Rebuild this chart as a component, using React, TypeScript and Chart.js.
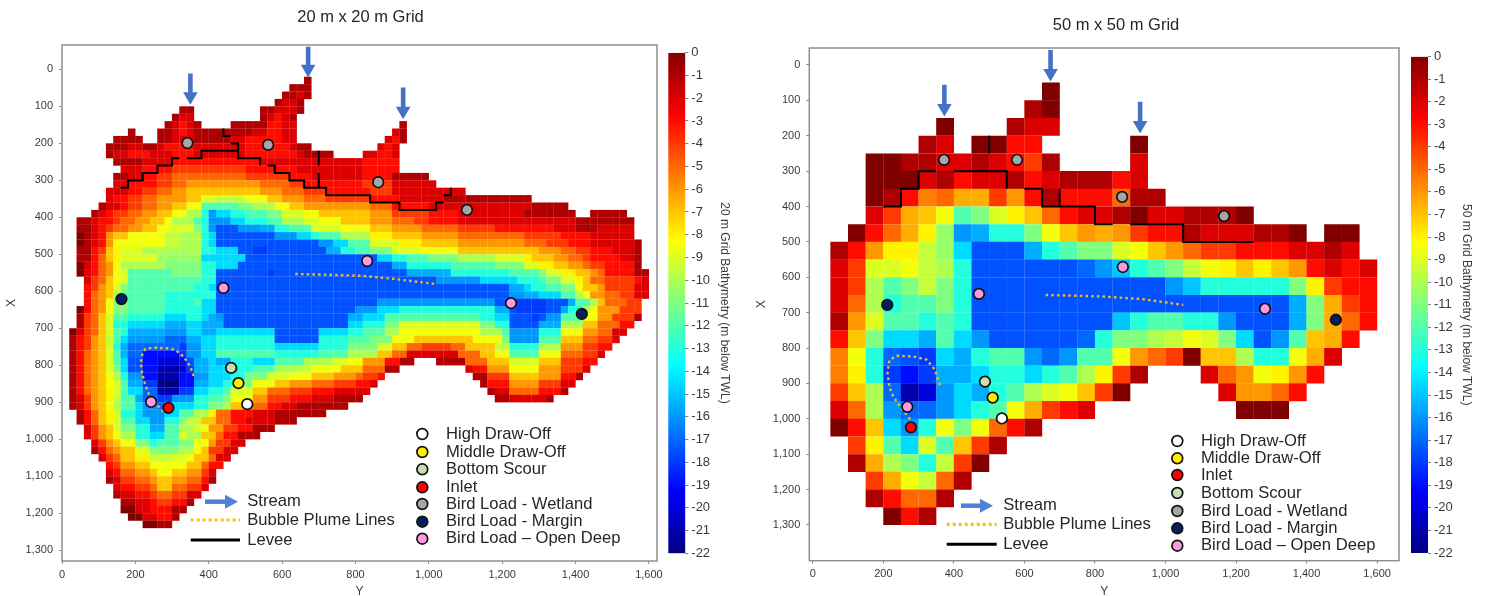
import React, { useEffect, useRef } from "react";
import { Chart, registerables } from "chart.js";

Chart.register(...registerables);

const FONT = "'Liberation Sans', Arial, sans-serif";
const TEXT = "#3a3a3a";

// Depth codes: a=0 m, b=-1 m ... w=-22 m; a capital letter is half a metre deeper.
// 20 m grid. One row per 20 m of X starting at X=20. "start token token": letter+last column, ".n" = gap up to column n.
const grid20Rows: string[] = [
  "33 b33",
  "31 b33",
  "30 b31 c32 b33",
  "29 b29 c31 b32",
  "16 b17 .26 b28 c31 b32",
  "15 b15 c17 .26 b27 c28 d29 c30 b31",
  "14 b14 c15 d16 c17 b18 .22 b27 d29 c31 .45 b46",
  "9 b9 .12 b14 c15 d16 c17 b25 c27 d29 c31 .44 c45 b46",
  "7 b10 .12 b14 c17 b22 c24 d29 c31 .43 c44 d45 b46",
  "6 b8 c10 b12 c13 d17 c24 d30 c31 b33 .42 c43 d44 c45",
  "6 b6 c8 d11 c14 d17 c24 d31 c32 b36 .40 c42 d44 c45",
  "7 b10 c14 d26 c40 d45",
  "8 c10 d14 e24 d31 c40 d45",
  "7 b8 c10 d12 e14 f24 e30 d33 c40 d44 b49",
  "7 c8 d12 e14 f16 g26 f30 e32 d40 e44 c50",
  "6 c8 d10 e12 f14 g16 h26 g29 f32 e35 d41 e44 c54",
  "6 c6 d8 e10 f12 g16 h18 j20 J24 I27 h29 g32 f35 e41 d45 c51 b63",
  "5 b5 c7 d8 e10 f12 g14 h16 I18 m23 l25 k28 I30 h32 g41 f44 d49 c63 b68",
  "4 b4 c5 d6 e8 f10 g12 h14 I16 k18 n19 q20 O22 n24 m27 l29 j32 I34 h41 g44 e49 d53 c62 b69 .71 b76",
  "2 b3 c4 d6 e7 f9 g11 h13 I14 k17 m18 n19 q22 O24 n27 m29 k32 j34 I37 h41 g44 f47 e49 d53 c69 b77",
  "2 b3 c4 d5 e6 f8 g10 h12 I14 j17 l18 n19 q20 R23 q26 P28 n30 m33 j37 I41 h44 g48 f53 e58 d66 c69 b72 c77",
  "2 a2 b3 c4 d5 g6 h8 I13 J15 k18 n19 O20 R28 q31 O33 n34 m37 k41 i44 h48 g53 f62 e67 d71 c77",
  "2 a2 b3 c4 d5 g6 I13 J15 k18 n19 O20 R34 q36 O38 m41 j45 i48 h53 g62 f65 e68 d71 c77 b78",
  "2 b3 d4 e5 h6 i7 j10 k18 n20 O23 R25 s27 R35 P37 n39 m41 l44 j48 I53 h64 g67 f69 e71 d74 c77 b78",
  "2 b3 d4 f5 h6 i7 j12 K18 O24 R42 O44 n46 m49 l53 k58 j62 i63 h66 g68 f70 e71 d75 c77 b78",
  "2 a2 c3 d4 f5 g6 I7 k13 l18 n20 O23 R44 P46 n52 m58 l62 j64 i66 h68 g70 f71 e73 d77 b78",
  "2 a2 c3 d4 f5 g6 I7 j8 m14 l18 n20 R27 s28 R46 P52 n60 m64 l65 j67 i69 h71 g72 f73 d77 b79",
  "3 c3 e4 f5 h6 I7 j8 m18 n20 R50 q56 O61 n64 m65 l67 j69 i70 h71 f73 e77 d78 c79",
  "3 d3 e4 g5 h6 j7 l8 m17 n19 O20 R60 P62 O63 n65 m67 l69 I70 h72 g73 e77 c79",
  "3 d3 f4 g5 h6 k7 m13 n20 R60 q62 P64 O67 m69 k70 I71 g73 f75 e77 c79",
  "3 d3 f4 g5 I6 l8 m13 n17 m18 O20 R42 q58 R61 s65 R68 P69 m71 k72 h73 f76 e78",
  "2 a2 d3 f4 g5 I6 l8 m13 n18 O20 R39 q42 O45 n58 P60 R61 s65 R67 P68 n70 k71 I72 g75 e78",
  "2 b2 e3 f4 h5 j6 m8 n13 O16 n18 O19 P20 q21 R38 P40 O43 m56 n58 O60 R63 s64 R65 q67 m70 I72 g74 e77 b78",
  "2 b2 e3 f4 h5 j6 n8 O13 P16 O18 P21 R38 O40 n43 l45 j56 l58 n60 R64 P67 k70 h72 f75 d77",
  "1 a1 c2 e3 f4 h5 j6 m7 n8 P13 q16 O18 P20 O28 R34 O38 n40 m43 k45 I56 k59 m60 q64 n67 I70 g72 f74 c76",
  "1 b1 d2 e3 g4 h5 J6 m7 O8 q13 r16 P18 O20 n28 R34 n38 m41 l44 I47 h55 I59 l60 q64 m67 h70 f72 e74 c75",
  "1 b1 d2 e3 g4 h5 j6 n7 P8 r15 s16 q18 O20 n28 O34 n38 l42 j44 h46 f48 e52 f54 h58 J60 n64 k67 g70 e72 d74",
  "1 b1 d2 f3 g4 h5 j6 m7 P8 r10 t15 s16 q18 O20 m28 n34 m38 k42 h44 f46 c53 f56 h58 I60 m64 I67 f70 e72 c73",
  "1 b1 d2 f3 g4 h5 j6 m7 O8 R10 t12 u15 t16 R17 P19 O20 P22 n25 O28 m32 k36 j38 I40 g43 d45 b47 .50 b54 f57 h60 j64 h67 e70 d72",
  "1 b1 d2 f3 g4 h5 j6 l7 O8 R10 t12 v15 u16 s17 P19 O23 n25 m28 k31 J33 I37 h40 f43 b45 .54 c55 d57 g60 I64 g67 e70 c71",
  "1 b1 d2 f3 g4 h5 I6 k7 n8 q10 t12 v15 t17 q19 O22 n24 l27 j30 I33 h36 g39 f40 e42 d43 .55 b57 e60 h64 g67 d69 b70",
  "1 b1 d2 f3 g4 h5 I6 j7 m8 P10 s12 w15 t17 P19 O21 n23 l25 I28 h30 g33 f36 e39 d41 c42 .56 b57 d60 g64 e67 c69",
  "1 b1 d2 f3 g4 h5 i6 j7 m8 O10 r12 v15 s17 O19 n21 m22 j25 h27 f30 e33 d36 c41 .57 b58 c60 f64 d67 b68",
  "1 b1 c2 e3 g4 h5 i6 J7 m9 P10 r12 s14 q17 n19 m21 l22 I25 g27 e30 d33 c36 b40 .58 b60 c65 b66",
  "1 b1 c2 e3 g4 h5 I6 k7 m9 O10 q12 r13 O17 n19 l21 k22 h24 f27 d29 c31 b38",
  "2 b2 d3 f4 h5 i6 j7 n9 O10 q13 O15 m17 k19 i20 f22 d25 c28 b35",
  "2 b2 d3 f4 h5 i6 j7 m9 O11 q13 n15 l16 J18 h20 f22 d24 c28 b31",
  "3 c3 e4 g5 h6 j7 l9 n11 P13 m15 k17 j18 I19 g21 e23 d25 b28",
  "3 c3 e4 g5 h6 I7 k9 n11 O13 m15 j16 k18 h20 f21 d23 b26",
  "4 c4 e5 g6 h7 I9 l11 n12 m15 l17 I19 g20 e22 c24",
  "4 b4 d5 f6 g7 h9 j11 l15 k17 I18 h19 e21 c23",
  "5 c5 e6 f7 h9 i11 J14 j16 I17 h19 f20 c22",
  "6 d6 e7 g9 h11 I16 h18 f19 d21",
  "6 c6 d7 f9 g11 h12 I14 h16 g18 e19 c20",
  "6 b6 c7 e9 f11 g12 h14 g16 f18 d19 b20",
  "7 c7 d9 e11 f12 h14 f16 e18 c19",
  "7 b7 c9 d11 e12 f14 e16 c18",
  "8 b9 c11 d12 e14 d16 b17",
  "8 a9 c11 d14 b16",
  "9 a10 c12 d14 b15",
  "11 a12 b14",
];

// 50 m grid. One row per 50 m of X starting at X=50; one letter per 50 m of Y starting at Y=0.
const grid50Rows: string[] = [
  ".............a",
  "............ba",
  ".......a...bcc",
  "......bc.aadd.....a",
  "...aabbccbcdeb....c",
  "...aaacbdccbdcbbbdc",
  "...abdFfGGegdbdddfbb",
  "...ceGhImljihfdccbaccbbba",
  "..adfGiKqPnnlIhgGgeddbcccbba.aa",
  ".bdgiiJKORRRPnmlljIhgfeedddccbc",
  ".cejjIJknRRRRRRrqpnmlJIihihgdcdc",
  ".cekmlJlnRRRRRRRRRRRqpnnnnnliedd",
  ".cfknmmlnRRRRRRRRRRRRRRRRRRPlGed",
  ".bgjmmnmnRRRRRRRRpnmmnnqRRRPlGfd",
  ".dhlOOPmOqRRRRRrnllkJIjlORqmhGd",
  ".FInrRsOPnmmqrqmmIgfeahhknnIGc",
  ".FinstsPPOnnOnmkieb...cfgIigd",
  ".ehkrvuqOPnmkjIhea.....cggfd",
  ".cfkqrrqOnmIGedc........aaa",
  ".adhOqnIlIfdb",
  "..eimOjmheb",
  "..bGklnJea",
  "...eGIJfb",
  "...bdffb",
  "....adb",
];

type XY = [number, number]; // [Y along the horizontal axis, X along the vertical axis]

const seriesNames = {
  high: "High Draw-Off",
  middle: "Middle Draw-Off",
  scour: "Bottom Scour",
  inlet: "Inlet",
  wetland: "Bird Load - Wetland",
  margin: "Bird Load - Margin",
  deep: "Bird Load \u2013 Open Deep",
};

const high20: XY[] = [[505, 905]];
const middle20: XY[] = [[481, 848]];
const scour20: XY[] = [[461, 807]];
const inlet20: XY[] = [[290, 915]];
const wetland20: XY[] = [[342, 199], [562, 204], [862, 305], [1104, 380]];
const margin20: XY[] = [[162, 621], [1417, 661]];
const deep20: XY[] = [[440, 591], [832, 518], [1224, 632], [243, 899]];

const high50: XY[] = [[536, 999]];
const middle50: XY[] = [[510, 940]];
const scour50: XY[] = [[488, 895]];
const inlet50: XY[] = [[278, 1024]];
const wetland50: XY[] = [[372, 268], [579, 268], [877, 373], [1166, 427]];
const margin50: XY[] = [[211, 678], [1483, 720]];
const deep50: XY[] = [[471, 647], [879, 571], [1282, 689], [268, 966]];

const levee20: XY[][] = [
  [[160, 320], [180, 320], [180, 300], [220, 300], [220, 280], [260, 280], [260, 260], [300, 260], [300, 240], [320, 240]],
  [[340, 240], [380, 240], [380, 220], [480, 220], [480, 240], [540, 240], [540, 260]],
  [[560, 260], [580, 260], [580, 280], [620, 280], [620, 300], [660, 300], [660, 320], [720, 320], [720, 340], [840, 340], [840, 360], [920, 360], [920, 380], [1020, 380], [1020, 360], [1040, 360]],
  [[1040, 340], [1060, 340], [1060, 320]],
  [[440, 160], [440, 180], [460, 180]],
  [[460, 200], [480, 200], [480, 220]],
  [[700, 220], [700, 260]],
  [[700, 280], [700, 320]],
];
const levee50: XY[][] = [
  [[200, 400], [250, 400], [250, 350], [300, 350], [300, 300], [350, 300]],
  [[400, 300], [550, 300], [550, 350]],
  [[600, 350], [650, 350], [650, 400], [800, 400], [800, 450], [850, 450]],
  [[900, 450], [1050, 450], [1050, 500], [1250, 500]],
  [[500, 200], [500, 250]],
  [[700, 350], [700, 400]],
];

const plume20: XY[][] = [
  [[277, 925], [264, 912], [243, 894], [234, 871], [223, 840], [216, 808], [216, 777], [227, 756], [250, 752], [286, 754], [309, 758], [332, 777], [350, 804], [361, 835]],
  [[636, 553], [720, 555], [817, 558], [903, 566], [960, 573], [1017, 580]],
];
const plume50: XY[][] = [
  [[276, 1001], [247, 965], [228, 937], [217, 909], [212, 871], [217, 834], [238, 822], [285, 824], [323, 833], [346, 861], [361, 907]],
  [[660, 650], [815, 654], [937, 662], [1050, 678]],
];

// [Y, X of tail, X of head centre]
const arrows20: [number, number, number][] = [[350, 11, 73], [671, -61, -1], [930, 49, 112]];
const arrows50: [number, number, number][] = [[373, 56, 122], [674, -42, 23], [928, 104, 170]];

const xTicks: number[] = [0, 200, 400, 600, 800, 1000, 1200, 1400, 1600];
const yTicks: number[] = [0, 100, 200, 300, 400, 500, 600, 700, 800, 900, 1000, 1100, 1200, 1300];
const depthTicks: number[] = [0, -1, -2, -3, -4, -5, -6, -7, -8, -9, -10, -11, -12, -13, -14, -15, -16, -17, -18, -19, -20, -21, -22];
const jetStops: [number, string][] = [
  [0, "#800000"], [0.125, "#ff0000"], [0.375, "#ffff00"], [0.625, "#00ffff"], [0.875, "#0000ff"], [1, "#000080"],
];

function codeDepth(ch: string): number {
  const lower = ch.toLowerCase();
  return lower.charCodeAt(0) - 97 + (ch === lower ? 0 : 0.5);
}

function depthColour(depth: number): string {
  const t = 1 - depth / 22;
  const c = (v: number) => Math.round(255 * Math.max(0, Math.min(1, v)));
  return `rgb(${c(1.5 - Math.abs(4 * t - 3))},${c(1.5 - Math.abs(4 * t - 2))},${c(1.5 - Math.abs(4 * t - 1))})`;
}

type Cell = { x: number; y: number; d: number };

function decode20(): Cell[] {
  const cells: Cell[] = [];
  grid20Rows.forEach((row, r) => {
    const tokens = row.split(" ");
    let col = Number(tokens[0]);
    tokens.slice(1).forEach((tok) => {
      const end = Number(tok.slice(1));
      if (tok[0] !== ".") {
        for (let c = col; c <= end; c++) cells.push({ x: 20 * c + 10, y: 20 * (r + 1) + 10, d: codeDepth(tok[0]) });
      }
      col = end + 1;
    });
  });
  return cells;
}

function decode50(): Cell[] {
  const cells: Cell[] = [];
  grid50Rows.forEach((row, r) => {
    row.split("").forEach((ch, k) => {
      if (ch !== ".") cells.push({ x: 50 * k + 25, y: 50 * (r + 1) + 25, d: codeDepth(ch) });
    });
  });
  return cells;
}

const toPts = (a: XY[]) => a.map(([x, y]) => ({ x, y }));

type Panel = {
  title: string;
  titleX: number;
  titleY: number;
  plotTop: number;
  cells: Cell[];
  cellRadius: number;
  xMin: number; xMax: number; yMin: number; yMax: number;
  axisWidth: number; axisHeight: number; rightPad: number;
  levee: XY[][]; plume: XY[][]; arrows: [number, number, number][];
  markers: { name: string; pts: XY[]; fill: string }[];
  legendOrder: string[];
  legendMarkerX: number; legendTextX: number; legendYs: number[];
  lineLegend: { textX: number; arrowX: [number, number]; lineX: [number, number]; ys: [number, number, number] };
  canvasLeft: number;
};

const FILL: Record<string, string> = {
  high: "#ffffff", middle: "#ffee00", scour: "#c5dfb0", inlet: "#ff0000", wetland: "#a6a6a6", margin: "#002060", deep: "#ff99e0",
};
const markerSet = (h: XY[], m: XY[], s: XY[], i: XY[], w: XY[], g: XY[], d: XY[]) => [
  { name: "high", pts: h, fill: FILL.high }, { name: "middle", pts: m, fill: FILL.middle }, { name: "scour", pts: s, fill: FILL.scour },
  { name: "inlet", pts: i, fill: FILL.inlet }, { name: "wetland", pts: w, fill: FILL.wetland }, { name: "margin", pts: g, fill: FILL.margin },
  { name: "deep", pts: d, fill: FILL.deep },
];

const panel20: Panel = {
  title: "20 m x 20 m Grid", titleX: 360.5, titleY: 17, plotTop: 45,
  cells: decode20(), cellRadius: 5.35,
  xMin: 0, xMax: 1622, yMin: -66, yMax: 1329,
  axisWidth: 62, axisHeight: 35, rightPad: 63,
  levee: levee20, plume: plume20, arrows: arrows20,
  markers: markerSet(high20, middle20, scour20, inlet20, wetland20, margin20, deep20),
  legendOrder: ["high", "middle", "scour", "inlet", "wetland", "margin", "deep"],
  legendMarkerX: 422.3, legendTextX: 446, legendYs: [434, 452, 469.3, 487.3, 504, 521.7, 538.7],
  lineLegend: { textX: 247.3, arrowX: [205, 238], lineX: [190.7, 240], ys: [501.7, 520, 540] },
  canvasLeft: 0,
};
const panel50: Panel = {
  title: "50 m x 50 m Grid", titleX: 1116, titleY: 25, plotTop: 48,
  cells: decode50(), cellRadius: 12.6,
  xMin: -10, xMax: 1662, yMin: -48, yMax: 1401,
  axisWidth: 59.3, axisHeight: 35.3, rightPad: 83,
  levee: levee50, plume: plume50, arrows: arrows50,
  markers: markerSet(high50, middle50, scour50, inlet50, wetland50, margin50, deep50),
  legendOrder: ["high", "middle", "inlet", "scour", "wetland", "margin", "deep"],
  legendMarkerX: 1177.3, legendTextX: 1201, legendYs: [441, 458.3, 475, 493, 511, 528.3, 545.7],
  lineLegend: { textX: 1003.3, arrowX: [961, 993], lineX: [946.7, 996.7], ys: [505.7, 524.3, 544.3] },
  canvasLeft: 750,
};

function panelPlugin(p: Panel) {
  return {
    id: "frameAndLegend",
    afterDatasetsDraw(chart: any) {
      const { ctx, chartArea: a } = chart;
      ctx.save();
      ctx.strokeStyle = "#8f8f8f";
      ctx.lineWidth = 1.5;
      ctx.strokeRect(a.left, a.top, a.right - a.left, a.bottom - a.top);

      const ox = p.canvasLeft;
      ctx.textBaseline = "middle";
      ctx.fillStyle = "#262626";
      ctx.font = `16.5px ${FONT}`;
      ctx.textAlign = "center";
      ctx.fillText(p.title, p.titleX - ox, p.titleY);
      ctx.textAlign = "left";
      ctx.font = `16.6px ${FONT}`;
      p.legendOrder.forEach((key, i) => {
        const y = p.legendYs[i];
        const m = p.markers.find((s) => s.name === key)!;
        ctx.beginPath();
        ctx.arc(p.legendMarkerX - ox, y, 5.4, 0, Math.PI * 2);
        ctx.fillStyle = m.fill;
        ctx.fill();
        ctx.lineWidth = 1.7;
        ctx.strokeStyle = "#111111";
        ctx.stroke();
        ctx.fillStyle = "#262626";
        ctx.fillText((seriesNames as any)[key], p.legendTextX - ox, y);
      });

      const L = p.lineLegend;
      ctx.fillText("Stream", L.textX - ox, L.ys[0]);
      ctx.fillText("Bubble Plume Lines", L.textX - ox, L.ys[1]);
      ctx.fillText("Levee", L.textX - ox, L.ys[2]);

      const [ax0, ax1] = L.arrowX;
      ctx.strokeStyle = "#4f81d6";
      ctx.lineWidth = 4.5;
      ctx.beginPath();
      ctx.moveTo(ax0 - ox, L.ys[0]);
      ctx.lineTo(ax1 - ox - 11, L.ys[0]);
      ctx.stroke();
      ctx.fillStyle = "#4f81d6";
      ctx.beginPath();
      ctx.moveTo(ax1 - ox, L.ys[0]);
      ctx.lineTo(ax1 - ox - 13, L.ys[0] - 7);
      ctx.lineTo(ax1 - ox - 13, L.ys[0] + 7);
      ctx.closePath();
      ctx.fill();

      ctx.strokeStyle = "#ffc000";
      ctx.lineWidth = 3.2;
      ctx.setLineDash([3, 3]);
      ctx.beginPath();
      ctx.moveTo(L.lineX[0] - ox, L.ys[1]);
      ctx.lineTo(L.lineX[1] - ox, L.ys[1]);
      ctx.stroke();
      ctx.setLineDash([]);

      ctx.strokeStyle = "#000000";
      ctx.lineWidth = 3;
      ctx.beginPath();
      ctx.moveTo(L.lineX[0] - ox, L.ys[2]);
      ctx.lineTo(L.lineX[1] - ox, L.ys[2]);
      ctx.stroke();
      ctx.restore();
    },
  };
}

function panelConfig(p: Panel): any {
  const datasets: any[] = [];
  datasets.push({
    label: "Bathymetry",
    data: p.cells,
    pointStyle: "rect",
    pointRadius: p.cellRadius,
    pointBorderWidth: 0,
    pointBackgroundColor: p.cells.map((c) => depthColour(c.d)),
    order: 10,
  });
  p.levee.forEach((seg) =>
    datasets.push({ label: "Levee", data: toPts(seg), showLine: true, borderColor: "#000000", borderWidth: 2, pointRadius: 0, order: 6 })
  );
  p.plume.forEach((seg) =>
    datasets.push({ label: "Bubble Plume Lines", data: toPts(seg), showLine: true, borderColor: "#f5b82e", borderWidth: 2.4, borderDash: [2.5, 3.2], pointRadius: 0, order: 5 })
  );
  p.arrows.forEach(([x, tail, head]) =>
    datasets.push({
      label: "Stream",
      data: [{ x, y: tail }, { x, y: head }],
      showLine: true,
      borderColor: "#4472c4",
      borderWidth: 4.6,
      pointStyle: "triangle",
      pointRotation: 180,
      pointRadius: [0, 8.4],
      pointBorderWidth: 0,
      pointBackgroundColor: "#4472c4",
      order: 4,
    })
  );
  p.markers.forEach((m) =>
    datasets.push({
      label: (seriesNames as any)[m.name],
      data: toPts(m.pts),
      pointStyle: "circle",
      pointRadius: 5.3,
      pointBorderWidth: 1.7,
      pointBorderColor: "#111111",
      pointBackgroundColor: m.fill,
      order: 1,
    })
  );
  const commaTick = (v: any) => Number(v).toLocaleString("en-US");
  return {
    type: "scatter",
    data: { datasets },
    plugins: [panelPlugin(p)],
    options: {
      animation: false,
      responsive: false,
      events: [],
      layout: { padding: { left: 0, right: p.rightPad, top: p.plotTop, bottom: 0 } },
      plugins: { legend: { display: false }, tooltip: { enabled: false } },
      scales: {
        x: {
          type: "linear",
          min: p.xMin,
          max: p.xMax,
          afterFit: (s: any) => { s.height = p.axisHeight; },
          afterBuildTicks: (s: any) => { s.ticks = xTicks.map((value) => ({ value })); },
          border: { display: false },
          grid: { drawOnChartArea: false, drawTicks: true, tickLength: 3, color: "#8f8f8f" },
          ticks: { autoSkip: false, maxRotation: 0, color: TEXT, padding: 4, font: { family: FONT, size: 11 }, callback: commaTick },
          title: { display: true, text: "Y", color: TEXT, font: { family: FONT, size: 12 }, padding: { top: 0, bottom: -3 } },
        },
        y: {
          type: "linear",
          reverse: true,
          min: p.yMin,
          max: p.yMax,
          afterFit: (s: any) => { s.width = p.axisWidth; },
          afterBuildTicks: (s: any) => { s.ticks = yTicks.map((value) => ({ value })); },
          border: { display: false },
          grid: { drawOnChartArea: false, drawTicks: true, tickLength: 3, color: "#8f8f8f" },
          ticks: { autoSkip: false, color: TEXT, padding: 6, font: { family: FONT, size: 11 }, callback: commaTick },
          title: { display: true, text: "X", color: TEXT, font: { family: FONT, size: 12 }, padding: { top: 4, bottom: 0 } },
        },
      },
    },
  };
}

function colourbarConfig(label: string, leftPad: number, axisWidth: number, top: number, bottom: number): any {
  return {
    type: "bar",
    data: {
      labels: ["depth"],
      datasets: [
        {
          label,
          data: [[depthTicks[depthTicks.length - 1], depthTicks[0]]],
          barPercentage: 1,
          categoryPercentage: 1,
          borderWidth: 0,
          backgroundColor: (ctx: any) => {
            const { chart } = ctx;
            if (!chart.chartArea) return "#888888";
            const g = chart.ctx.createLinearGradient(0, chart.chartArea.top, 0, chart.chartArea.bottom);
            jetStops.forEach(([o, c]) => g.addColorStop(o, c));
            return g;
          },
        },
      ],
    },
    options: {
      animation: false,
      responsive: false,
      events: [],
      layout: { padding: { left: leftPad, right: 0, top, bottom } },
      plugins: { legend: { display: false }, tooltip: { enabled: false } },
      scales: {
        x: { display: false },
        y: {
          position: "right",
          min: depthTicks[depthTicks.length - 1],
          max: depthTicks[0],
          afterFit: (s: any) => { s.width = axisWidth; },
          border: { display: false },
          grid: { drawOnChartArea: false, drawTicks: true, tickLength: 3, color: "#808080" },
          afterBuildTicks: (s: any) => { s.ticks = depthTicks.map((value) => ({ value })); },
          ticks: { autoSkip: false, color: TEXT, padding: 3, font: { family: FONT, size: 13 }, callback: (v: any) => String(v) },
          title: { display: true, text: label, color: TEXT, font: { family: FONT, size: 12 }, padding: { top: 0, bottom: 0 } },
        },
      },
    },
  };
}

function useChart(makeConfig: () => any) {
  const ref = useRef<HTMLCanvasElement | null>(null);
  useEffect(() => {
    const chart = new Chart(ref.current as HTMLCanvasElement, makeConfig());
    return () => chart.destroy();
  }, []);
  return ref;
}

const place = (left: number, width: number): React.CSSProperties => ({ position: "absolute", left, top: 0, width, height: 596, display: "block" });

export default function App() {
  const a = useChart(() => panelConfig(panel20));
  const b = useChart(() => panelConfig(panel50));
  const c = useChart(() => colourbarConfig("20 m Grid Bathymetry (m below TWL)", 8.3, 46.7, 52.7, 42.7));
  const d = useChart(() => colourbarConfig("50 m Grid Bathymetry (m below TWL)", 7, 46, 56.5, 43));
  return (
    <div style={{ position: "absolute", left: 0, top: 0, width: 1486, height: 596, overflow: "hidden", background: "#ffffff" }}>
      <canvas ref={a} width={720} height={596} style={place(0, 720)} />
      <canvas ref={b} width={732} height={596} style={place(750, 732)} />
      <canvas ref={c} width={72} height={596} style={place(660, 72)} />
      <canvas ref={d} width={70} height={596} style={place(1404, 70)} />
    </div>
  );
}
